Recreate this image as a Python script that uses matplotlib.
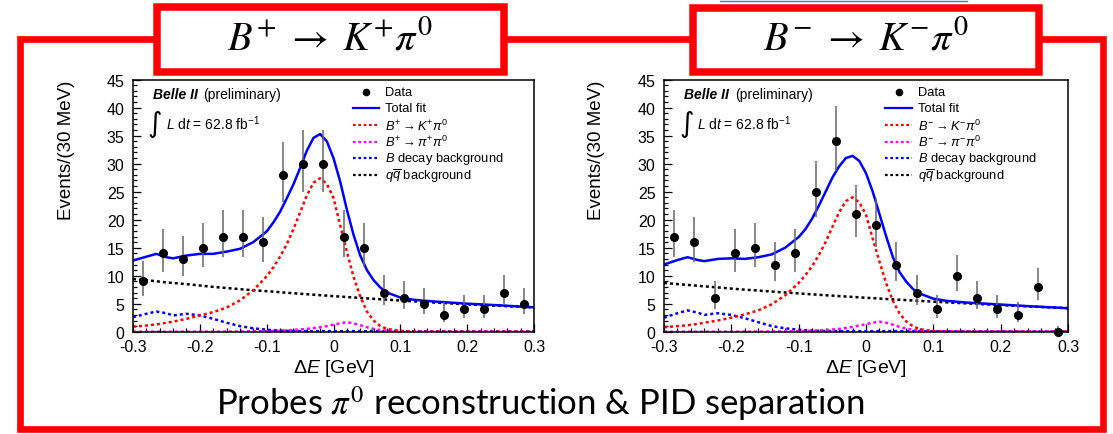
#!/usr/bin/env python

import numpy as np
import matplotlib
matplotlib.use("Agg")
import matplotlib.pyplot as plt
from matplotlib.patches import Rectangle
from matplotlib.ticker import MultipleLocator, FuncFormatter

plt.rcParams['font.family'] = ['Liberation Sans', 'DejaVu Sans']
plt.rcParams['mathtext.fontset'] = 'custom'
plt.rcParams['mathtext.rm'] = 'Liberation Sans'
plt.rcParams['mathtext.it'] = 'Liberation Sans:italic'
plt.rcParams['mathtext.bf'] = 'Liberation Sans:bold'
plt.rcParams['axes.unicode_minus'] = False

# Bin centres (30 MeV bins) and event counts
bin_x = [-0.285, -0.255, -0.225, -0.195, -0.165, -0.135, -0.105, -0.075, -0.045, -0.015,
         0.015, 0.045, 0.075, 0.105, 0.135, 0.165, 0.195, 0.225, 0.255, 0.285]
data_kp = [9, 14, 13, 15, 17, 17, 16, 28, 30, 30, 17, 15, 7, 6, 5, 3, 4, 4, 7, 5]
data_km = [17, 16, 6, 14, 15, 12, 14, 25, 34, 21, 19, 12, 7, 4, 10, 6, 4, 3, 8, 0]

# Fit curves
curve_x = [-0.30, -0.28, -0.265, -0.25, -0.24, -0.22, -0.20, -0.18, -0.16, -0.14, -0.12,
           -0.10, -0.09, -0.08, -0.07, -0.06, -0.05, -0.04, -0.03, -0.02, -0.01, 0.00,
           0.01, 0.02, 0.03, 0.04, 0.05, 0.06, 0.07, 0.08, 0.10, 0.12, 0.15, 0.20, 0.25, 0.30]

total_kp = [12.7, 13.4, 13.9, 13.3, 13.1, 13.6, 13.9, 13.9, 14.3, 14.8, 16.0,
            17.9, 19.5, 21.4, 23.8, 26.3, 29.2, 32.3, 34.6, 35.3, 34.0, 31.0,
            26.8, 21.8, 17.3, 13.6, 11.0, 9.2, 7.9, 7.0, 6.1, 5.7, 5.4, 5.0, 4.7, 4.35]
sig_kp = [0.9, 1.1, 1.3, 1.6, 1.8, 2.3, 2.9, 3.5, 4.3, 5.6, 7.4,
          9.9, 11.5, 13.4, 15.6, 18.3, 21.3, 24.3, 26.6, 27.4, 26.4, 23.9,
          19.0, 14.3, 9.8, 6.3, 3.6, 2.0, 1.0, 0.5, 0.15, 0.05, 0.0, 0.0, 0.0, 0.0]
pipi_kp = [0.0, 0.0, 0.0, 0.0, 0.0, 0.0, 0.0, 0.0, 0.02, 0.04, 0.07,
           0.1, 0.13, 0.17, 0.22, 0.3, 0.4, 0.5, 0.65, 0.8, 1.0, 1.25,
           1.5, 1.7, 1.5, 1.15, 0.8, 0.5, 0.3, 0.18, 0.05, 0.0, 0.0, 0.0, 0.0, 0.0]
bbkg_kp = [2.6, 3.2, 3.6, 3.3, 2.9, 3.2, 2.9, 2.3, 1.6, 1.0, 0.6,
           0.35, 0.25, 0.2, 0.15, 0.12, 0.1, 0.1, 0.1, 0.1, 0.1, 0.1,
           0.1, 0.1, 0.1, 0.1, 0.1, 0.1, 0.1, 0.1, 0.08, 0.06, 0.05, 0.04, 0.03, 0.03]
qq_kp = [9.4, 9.2, 9.0, 8.8, 8.7, 8.5, 8.25, 8.0, 7.8, 7.6, 7.4,
         7.24, 7.15, 7.05, 6.96, 6.87, 6.78, 6.69, 6.61, 6.52, 6.44, 6.35,
         6.27, 6.19, 6.11, 6.03, 5.95, 5.87, 5.8, 5.72, 5.57, 5.43, 5.22, 4.89, 4.61, 4.35]

total_km = [12.0, 12.8, 13.3, 12.8, 12.6, 13.0, 13.1, 13.0, 13.3, 13.8, 15.0,
            16.9, 18.3, 20.2, 22.5, 25.0, 27.5, 29.5, 31.0, 31.4, 30.5, 28.3,
            25.0, 21.0, 17.0, 13.3, 10.6, 8.9, 7.6, 6.8, 5.9, 5.5, 5.2, 4.85, 4.5, 4.2]
sig_km = [0.8, 1.0, 1.15, 1.4, 1.6, 2.0, 2.5, 3.1, 3.8, 4.9, 6.5,
          8.7, 10.1, 11.7, 13.7, 16.0, 18.7, 21.3, 23.3, 24.0, 23.1, 20.9,
          16.6, 12.5, 8.6, 5.5, 3.2, 1.8, 0.95, 0.45, 0.12, 0.04, 0.0, 0.0, 0.0, 0.0]
pipi_km = [0.0, 0.0, 0.0, 0.0, 0.0, 0.0, 0.0, 0.0, 0.02, 0.04, 0.07,
           0.1, 0.13, 0.17, 0.22, 0.3, 0.4, 0.5, 0.65, 0.85, 1.1, 1.35,
           1.6, 1.8, 1.6, 1.25, 0.85, 0.55, 0.32, 0.18, 0.05, 0.0, 0.0, 0.0, 0.0, 0.0]
bbkg_km = [2.5, 3.3, 3.8, 3.4, 3.0, 3.3, 3.0, 2.4, 1.7, 1.0, 0.6,
           0.35, 0.25, 0.2, 0.15, 0.12, 0.1, 0.1, 0.1, 0.1, 0.1, 0.1,
           0.1, 0.1, 0.1, 0.1, 0.1, 0.1, 0.1, 0.1, 0.08, 0.06, 0.05, 0.04, 0.03, 0.03]
qq_km = [8.7, 8.5, 8.35, 8.2, 8.1, 7.9, 7.7, 7.5, 7.35, 7.17, 7.0,
         6.84, 6.75, 6.67, 6.59, 6.51, 6.44, 6.36, 6.28, 6.21, 6.13, 6.06,
         5.99, 5.92, 5.84, 5.77, 5.7, 5.64, 5.57, 5.5, 5.37, 5.24, 5.05, 4.75, 4.47, 4.2]

legend_kp = ['Data', 'Total fit', r'$B^{+}\rightarrow K^{+}\pi^{0}$',
             r'$B^{+}\rightarrow \pi^{+}\pi^{0}$', r'$B$ decay background',
             r'$q\overline{q}$ background']
legend_km = ['Data', 'Total fit', r'$B^{-}\rightarrow K^{-}\pi^{0}$',
             r'$B^{-}\rightarrow \pi^{-}\pi^{0}$', r'$B$ decay background',
             r'$q\overline{q}$ background']
titles = [r'$B^{+}\;\rightarrow\;K^{+}\pi^{0}$', r'$B^{-}\;\rightarrow\;K^{-}\pi^{0}$']

W, H = 1113, 435
fig = plt.figure(figsize=(W / 100, H / 100), dpi=100)


def px_axes(x0, x1, y0, y1):
    # axes rectangle from pixel edges
    return [x0 / W, 1 - y1 / H, (x1 - x0) / W, (y1 - y0) / H]


def draw_panel(ax, counts, tot, sig, pipi, bbkg, qq, labels):
    n = np.array(counts, dtype=float)
    lo = np.sqrt(n + 0.25) - 0.5
    hi = np.sqrt(n + 0.25) + 0.5
    dots = (0, (1.2, 1.2))
    ax.plot(curve_x, qq, color='black', ls=dots, lw=1.8)
    ax.plot(curve_x, bbkg, color='#0000ff', ls=dots, lw=1.8)
    ax.plot(curve_x, pipi, color='#ff00ff', ls=dots, lw=1.8)
    ax.plot(curve_x, sig, color='#ff0000', ls=dots, lw=1.8)
    ax.plot(curve_x, tot, color='#0000ff', lw=1.8)
    ax.errorbar(bin_x, n, yerr=[lo, hi], fmt='o', color='black', ms=5.5,
                ecolor='#666666', elinewidth=1.1, capsize=0, zorder=5, clip_on=False)

    ax.set_xlim(-0.3, 0.3)
    ax.set_ylim(0, 45)
    ax.xaxis.set_major_locator(MultipleLocator(0.1))
    ax.xaxis.set_minor_locator(MultipleLocator(0.02))
    ax.yaxis.set_major_locator(MultipleLocator(5))
    ax.yaxis.set_minor_locator(MultipleLocator(1))
    ax.xaxis.set_major_formatter(FuncFormatter(lambda v, p: '0' if abs(v) < 1e-9 else '%g' % round(v, 1)))
    ax.tick_params(which='both', direction='in', labelsize=11.5, width=0.9)
    ax.tick_params(which='major', length=6)
    ax.tick_params(which='minor', length=3)
    ax.tick_params(axis='x', pad=5)
    ax.tick_params(axis='y', pad=6)
    for s in ax.spines.values():
        s.set_linewidth(1.1)

    ax.set_ylabel('Events/(30 MeV)', fontsize=13.5, loc='top')
    ax.yaxis.set_label_coords(-0.145, 1.0)
    ax.set_xlabel(r'$\Delta E$ [GeV]', fontsize=14)
    ax.xaxis.set_label_coords(0.5, -0.1)

    ax.text(0.05, 0.943, 'Belle II', transform=ax.transAxes, fontsize=10,
            fontweight='bold', fontstyle='italic', va='center')
    ax.text(0.176, 0.943, '(preliminary)', transform=ax.transAxes, fontsize=10, va='center')
    ax.text(0.055, 0.828, '\u222b', transform=ax.transAxes, fontsize=20,
            family='DejaVu Sans', ha='center', va='center')
    ax.text(0.082, 0.831, r'$L$ d$t$ = 62.8 fb$^{\mathregular{-1}}$', transform=ax.transAxes,
            fontsize=10, va='center')

    # legend drawn by hand, ROOT style
    styles = [None, '-', dots, dots, dots, dots]
    colors = ['black', '#0000ff', '#ff0000', '#ff00ff', '#0000ff', 'black']
    for i, lab in enumerate(labels):
        y = 0.952 - i * 0.066
        if i == 0:
            ax.plot([0.581], [y], 'o', color='black', ms=4.5, transform=ax.transAxes, clip_on=False)
        else:
            ax.plot([0.548, 0.614], [y, y], color=colors[i], ls=styles[i], lw=1.6,
                    transform=ax.transAxes, clip_on=False)
        ax.text(0.628, y, lab, transform=ax.transAxes, fontsize=9.3, va='center')


ax1 = fig.add_axes(px_axes(133, 534, 80.7, 332.7))
draw_panel(ax1, data_kp, total_kp, sig_kp, pipi_kp, bbkg_kp, qq_kp, legend_kp)
ax2 = fig.add_axes(px_axes(664, 1068, 80.7, 332.7))
draw_panel(ax2, data_km, total_km, sig_km, pipi_km, bbkg_km, qq_km, legend_km)

# Red slide frame and title boxes
ov = fig.add_axes([0, 0, 1, 1], zorder=10)
ov.set_xlim(0, W)
ov.set_ylim(H, 0)
ov.axis('off')
ov.patch.set_alpha(0)
ov.add_patch(Rectangle((20, 40), 1083.3, 390, fill=False, ec='#ff0000', lw=4.8))
ov.add_patch(Rectangle((157, 7.8), 346.7, 65.5, fc='white', ec='#ff0000', lw=5.4))
ov.add_patch(Rectangle((692.5, 8.8), 346.5, 64.5, fc='white', ec='#ff0000', lw=5.4))
ov.plot([720, 967], [1.5, 1.5], color='#2f7fd8', lw=1)
ov.text(330, 39, titles[0], fontsize=29, ha='center', va='center', math_fontfamily='stix')
ov.text(866, 39, titles[1], fontsize=29, ha='center', va='center', math_fontfamily='stix')
ov.text(540, 404, r'Probes $\pi^{0}$ reconstruction & PID separation', fontsize=25,
        family='Lato', ha='center', va='center', math_fontfamily='stix')

fig.savefig('out.png', dpi=100)
